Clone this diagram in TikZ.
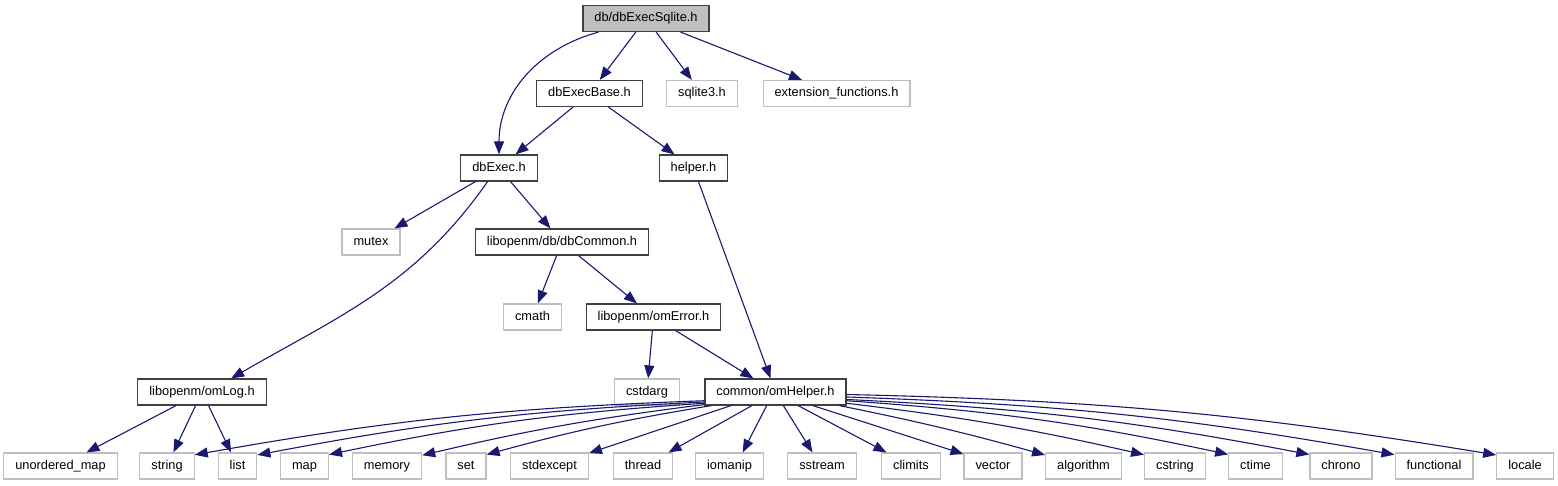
\documentclass[tikz,border=0pt]{standalone}
\usepackage{fontspec}
\setmainfont{Liberation Sans}
\usetikzlibrary{arrows.meta}
\definecolor{edgeBlue}{HTML}{191970}
\definecolor{extGray}{HTML}{BFBFBF}
\definecolor{boxLine}{HTML}{404040}

\tikzset{
  hdr/.style={draw=boxLine, fill=white, line width=1.2pt, minimum height=26pt,
              inner xsep=11.5pt, inner ysep=0pt, text height=9.3pt, text depth=2.7pt,
              font=\fontsize{12.8}{15}\selectfont},
  cur/.style={hdr, fill=extGray},
  sys/.style={hdr, draw=extGray},
  dep/.style={draw=edgeBlue, line width=1.1pt, -{Triangle[length=13pt,width=10pt]}}
}

\begin{document}
\begin{tikzpicture}[x=1pt,y=1pt]
  \useasboundingbox (0,0) rectangle (1558,-485);

  % headers of the project
  \node[cur] (root)     at (646,-18.5) {db/dbExecSqlite.h};
  \node[hdr] (execBase) at (589.5,-93.5) {dbExecBase.h};
  \node[sys] (sqlite)   at (702,-93.5) {sqlite3.h};
  \node[sys] (extFunc)  at (836.5,-93.5) {extension\_functions.h};
  \node[hdr] (dbExec)   at (499,-168) {dbExec.h};
  \node[hdr] (helper)   at (693.5,-168) {helper.h};
  \node[sys] (mutex)    at (371,-242) {mutex};
  \node[hdr] (dbCommon) at (562,-242) {libopenm/db/dbCommon.h};
  \node[sys] (cmath)    at (532.5,-317) {cmath};
  \node[hdr] (omError)  at (653.5,-317) {libopenm/omError.h};
  \node[hdr] (omLog)    at (202,-392) {libopenm/omLog.h};
  \node[sys] (cstdarg)  at (647,-392) {cstdarg};
  \node[hdr] (omHelper) at (775.5,-392) {common/omHelper.h};

  % system headers, bottom row
  \node[sys] (umap) at (60.5,-466) {unordered\_map};
  \foreach \n/\x in {string/167, list/237.5, map/304.5, memory/387, set/466,
                     stdexcept/549.5, thread/643, iomanip/729.5, sstream/822,
                     climits/911, vector/993, algorithm/1083.5, cstring/1175,
                     ctime/1255.5, chrono/1341, functional/1434, locale/1525}
    \node[sys] (\n) at (\x,-466) {\n};

  % includes
  \draw[dep] (root.196) to[out=195,in=90] (dbExec.north);
  \draw[dep] (root) -- (execBase);
  \draw[dep] (root) -- (sqlite);
  \draw[dep] (root) -- (extFunc);
  \draw[dep] (execBase) -- (dbExec);
  \draw[dep] (execBase) -- (helper);
  \draw[dep] (dbExec) -- (mutex);
  \draw[dep] (dbExec) -- (dbCommon);
  \draw[dep] (dbExec.-130) to[out=235,in=30] (omLog.25);
  \draw[dep] (dbCommon) -- (cmath);
  \draw[dep] (dbCommon) -- (omError);
  \draw[dep] (helper) -- (omHelper);
  \draw[dep] (omError) -- (cstdarg);
  \draw[dep] (omError) -- (omHelper);
  \draw[dep] (omLog) -- (umap);
  \draw[dep] (omLog) -- (string);
  \draw[dep] (omLog) -- (list);

  % omHelper fan
  \foreach \a/\n/\b/\k in {187/string/22/-4, 188/list/29/-4, 189/map/25/-4,
                           190/memory/17/-3, 192/set/29/-3, 197/stdexcept/18/0,
                           210/thread/28/0, 237/iomanip/46/0, 300/sstream/125/0,
                           329/climits/151/0, 340/vector/158/0, 348/algorithm/164/2,
                           351/cstring/160/3, 353/ctime/157/4, 354/chrono/160/4,
                           356/functional/164/4, 358/locale/159/4}
    \draw[dep] (omHelper.\a) to[bend left=\k] (\n.\b);
\end{tikzpicture}
\end{document}
